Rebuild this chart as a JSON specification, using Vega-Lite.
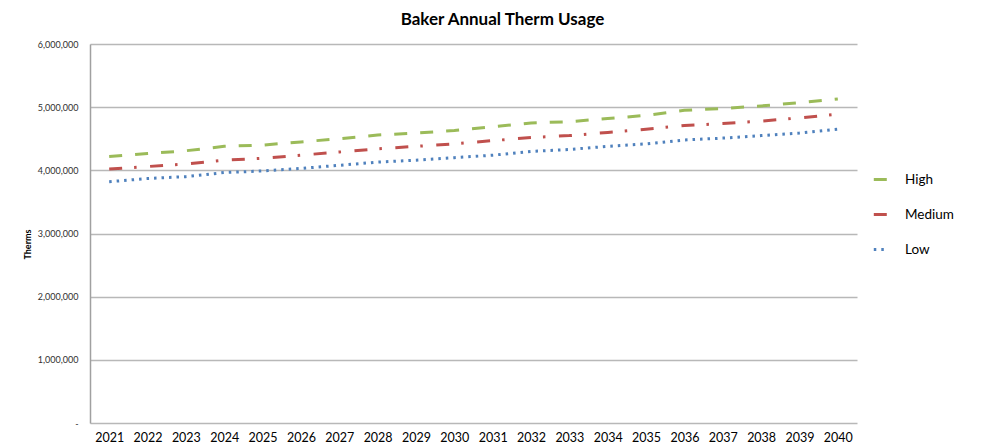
{
  "$schema": "https://vega.github.io/schema/vega-lite/v6.json",
  "width": 767,
  "height": 379,
  "autosize": {"type": "none"},
  "padding": {"left": 90, "top": 44, "right": 146, "bottom": 24},
  "background": "white",
  "title": {
    "text": "Baker Annual Therm Usage",
    "anchor": "middle",
    "dx": 29,
    "offset": -2,
    "baseline": "alphabetic",
    "font": "Lato",
    "fontSize": 17,
    "fontWeight": "bold",
    "color": "#000000"
  },
  "config": {
    "view": {"stroke": null},
    "font": "Lato"
  },
  "data": {
    "values": [
      {"year": "2021", "series": "High", "therms": 4220000},
      {"year": "2022", "series": "High", "therms": 4265000},
      {"year": "2023", "series": "High", "therms": 4310000},
      {"year": "2024", "series": "High", "therms": 4380000},
      {"year": "2025", "series": "High", "therms": 4400000},
      {"year": "2026", "series": "High", "therms": 4450000},
      {"year": "2027", "series": "High", "therms": 4500000},
      {"year": "2028", "series": "High", "therms": 4560000},
      {"year": "2029", "series": "High", "therms": 4590000},
      {"year": "2030", "series": "High", "therms": 4630000},
      {"year": "2031", "series": "High", "therms": 4690000},
      {"year": "2032", "series": "High", "therms": 4750000},
      {"year": "2033", "series": "High", "therms": 4770000},
      {"year": "2034", "series": "High", "therms": 4820000},
      {"year": "2035", "series": "High", "therms": 4870000},
      {"year": "2036", "series": "High", "therms": 4950000},
      {"year": "2037", "series": "High", "therms": 4980000},
      {"year": "2038", "series": "High", "therms": 5020000},
      {"year": "2039", "series": "High", "therms": 5070000},
      {"year": "2040", "series": "High", "therms": 5130000},
      {"year": "2021", "series": "Medium", "therms": 4020000},
      {"year": "2022", "series": "Medium", "therms": 4060000},
      {"year": "2023", "series": "Medium", "therms": 4100000},
      {"year": "2024", "series": "Medium", "therms": 4160000},
      {"year": "2025", "series": "Medium", "therms": 4190000},
      {"year": "2026", "series": "Medium", "therms": 4240000},
      {"year": "2027", "series": "Medium", "therms": 4290000},
      {"year": "2028", "series": "Medium", "therms": 4340000},
      {"year": "2029", "series": "Medium", "therms": 4380000},
      {"year": "2030", "series": "Medium", "therms": 4420000},
      {"year": "2031", "series": "Medium", "therms": 4470000},
      {"year": "2032", "series": "Medium", "therms": 4520000},
      {"year": "2033", "series": "Medium", "therms": 4550000},
      {"year": "2034", "series": "Medium", "therms": 4600000},
      {"year": "2035", "series": "Medium", "therms": 4650000},
      {"year": "2036", "series": "Medium", "therms": 4710000},
      {"year": "2037", "series": "Medium", "therms": 4740000},
      {"year": "2038", "series": "Medium", "therms": 4780000},
      {"year": "2039", "series": "Medium", "therms": 4830000},
      {"year": "2040", "series": "Medium", "therms": 4890000},
      {"year": "2021", "series": "Low", "therms": 3820000},
      {"year": "2022", "series": "Low", "therms": 3870000},
      {"year": "2023", "series": "Low", "therms": 3900000},
      {"year": "2024", "series": "Low", "therms": 3965000},
      {"year": "2025", "series": "Low", "therms": 3990000},
      {"year": "2026", "series": "Low", "therms": 4030000},
      {"year": "2027", "series": "Low", "therms": 4080000},
      {"year": "2028", "series": "Low", "therms": 4130000},
      {"year": "2029", "series": "Low", "therms": 4160000},
      {"year": "2030", "series": "Low", "therms": 4200000},
      {"year": "2031", "series": "Low", "therms": 4240000},
      {"year": "2032", "series": "Low", "therms": 4300000},
      {"year": "2033", "series": "Low", "therms": 4330000},
      {"year": "2034", "series": "Low", "therms": 4380000},
      {"year": "2035", "series": "Low", "therms": 4420000},
      {"year": "2036", "series": "Low", "therms": 4480000},
      {"year": "2037", "series": "Low", "therms": 4510000},
      {"year": "2038", "series": "Low", "therms": 4550000},
      {"year": "2039", "series": "Low", "therms": 4590000},
      {"year": "2040", "series": "Low", "therms": 4650000}
    ]
  },
  "mark": {"type": "line", "strokeWidth": 3, "strokeCap": "butt"},
  "encoding": {
    "x": {
      "field": "year",
      "type": "ordinal",
      "scale": {"type": "point", "padding": 0.5},
      "axis": {
        "title": null,
        "domain": false,
        "ticks": false,
        "labelAngle": 0,
        "labelPadding": 8,
        "labelFontSize": 12.5,
        "labelColor": "#000000",
        "labelFont": "Lato"
      }
    },
    "y": {
      "field": "therms",
      "type": "quantitative",
      "scale": {"domain": [0, 6000000], "nice": false, "zero": true},
      "axis": {
        "title": "Therms",
        "titleFontSize": 9,
        "titleFontWeight": "bold",
        "titleColor": "#000000",
        "titleFont": "Lato",
        "titleAngle": -90,
        "titleX": -63,
        "titleY": 200,
        "titleAlign": "center",
        "titleBaseline": "middle",
        "values": [0, 1000000, 2000000, 3000000, 4000000, 5000000, 6000000],
        "labelExpr": "datum.value == 0 ? '-' : format(datum.value, ',')",
        "labelFontSize": 9,
        "labelColor": "#303030",
        "labelFont": "Lato",
        "labelPadding": 12,
        "ticks": false,
        "domain": true,
        "domainColor": "#a0a0a0",
        "domainWidth": 1.5,
        "grid": true,
        "gridColor": "#b8b8b8",
        "gridWidth": 1.4
      }
    },
    "color": {
      "field": "series",
      "type": "nominal",
      "scale": {"domain": ["High", "Medium", "Low"], "range": ["#9BBB59", "#C0504D", "#4F81BD"]},
      "legend": {
        "title": null,
        "orient": "none",
        "legendX": 782,
        "legendY": 127,
        "padding": 0,
        "symbolType": "stroke",
        "symbolSize": 180,
        "symbolStrokeWidth": 3,
        "labelFontSize": 13.5,
        "labelFont": "Lato",
        "labelColor": "#000000",
        "labelOffset": 16,
        "rowPadding": 20
      }
    },
    "strokeDash": {
      "field": "series",
      "type": "nominal",
      "scale": {"domain": ["High", "Medium", "Low"], "range": [[13, 13], [13, 12, 2.5, 13.5], [2.5, 5]]},
      "legend": {
        "title": null,
        "orient": "none",
        "legendX": 782,
        "legendY": 127,
        "padding": 0,
        "symbolType": "stroke",
        "symbolSize": 180,
        "symbolStrokeWidth": 3,
        "labelFontSize": 13.5,
        "labelFont": "Lato",
        "labelColor": "#000000",
        "labelOffset": 16,
        "rowPadding": 20
      }
    }
  }
}
